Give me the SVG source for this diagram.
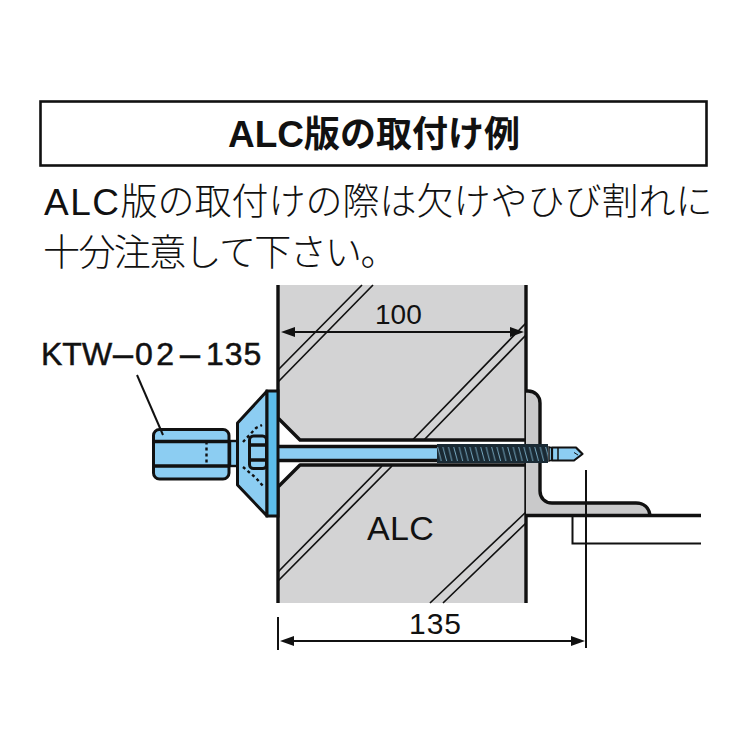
<svg xmlns="http://www.w3.org/2000/svg" width="749" height="749" viewBox="0 0 749 749">
<style>
.j{font-family:"Noto Sans CJK JP","Liberation Sans",sans-serif;fill:#111}
.l{font-family:"Liberation Sans",Arial,sans-serif;fill:#111}
.k{fill:none;stroke:#111;stroke-width:3.4;stroke-linejoin:round}
.b{fill:#8ccdf2;stroke:#111;stroke-width:3;stroke-linejoin:round}
.t{fill:none;stroke:#111;stroke-width:1.7}
.d{fill:none;stroke:#111;stroke-width:2.4;stroke-dasharray:3 3}
.a{fill:none;stroke:#111;stroke-width:2}
</style>
<defs>
<pattern id="thr" width="5.4" height="20" patternUnits="userSpaceOnUse" x="437" y="444">
<rect width="5.4" height="20" fill="#1a2a34"/>
<path d="M0.6 3L4.2 17" stroke="#7fb4cf" stroke-width="0.9"/>
</pattern>
</defs>
<g id="title">
<rect x="40.500" y="101.500" width="666" height="64" fill="#fff" stroke="#111" stroke-width="2.600"/>
<text class="j" x="228" y="147" font-size="36" font-weight="700"><tspan class="l" font-size="37" font-weight="700">ALC</tspan>版の取付け例</text>
</g>
<g id="note">
<text class="j" x="44" y="215" font-size="37" font-weight="300"><tspan class="l" letter-spacing="1.500">ALC</tspan>版の取付けの際は欠けやひび割れに</text>
<text class="j" x="43" y="266" font-size="37" font-weight="300" letter-spacing="-1.600">十分注意して下さい。</text>
</g>
<g id="wall">
<rect x="278" y="285" width="248" height="318" fill="#d3d3d4"/>
<path d="M278 418L300 440H526V465H300L278 487Z" fill="#fff"/>
<path class="t" d="M362 285L278 370M373 285L278 382M526 323L413 439.500M526 335L424 440M382 466L278 572M392 466L278 581M526 512L430 603M526 523L443 603"/>
<path class="k" d="M278 285V418L300 440H526M278 487L300 465H526M278 487V603M526 285V603"/>
</g>
<g id="bracket">
<path d="M526 391H528C535 391 540 396 540 403V491C540 498 545 503 552 503H636C644 503 649 508 650 515H526Z" fill="#c9c9ca" stroke="none"/>
<path class="k" d="M526 391H528C535 391 540 396 540 403V491C540 498 545 503 552 503H636C644 503 649 508 650 515"/>
<path class="k" d="M526 515.500H701" stroke-width="2.600"/>
<path class="a" d="M701 543.500H572.500V516" stroke-width="2.400"/>
</g>
<g id="screw">
<rect x="278" y="447" width="159" height="13" fill="#8ccdf2"/>
<path class="k" d="M278 446.500H437M278 460.500H437" stroke-width="2.400"/>
<path d="M437 444H548V463H437Z" fill="url(#thr)"/>
<path d="M549 447L556 449V459L549 461Z" fill="#8ccdf2" stroke="#111" stroke-width="1.500"/>
<path d="M552 447.500V460.500H574L582.500 454L576 447.500Z" fill="#8ccdf2" stroke="#111" stroke-width="2.200" stroke-linejoin="round"/>
<path d="M558 447V460.500" stroke="#111" stroke-width="1.500" fill="none"/>
<path d="M574 452.500L578 455" stroke="#111" stroke-width="1" fill="none"/>
</g>
<g id="anchor">
<rect x="230" y="441" width="8" height="25" fill="#8ccdf2" stroke="#111" stroke-width="2.400"/>
<path class="b" d="M237.500 423L267 391V516L237.500 485Z"/>
<rect x="267" y="391" width="11" height="125" fill="#5dbdea" stroke="#111" stroke-width="3"/>
<rect x="249.500" y="436" width="17" height="32.500" rx="4" fill="#8ccdf2" stroke="#111" stroke-width="3"/>
<path class="k" d="M249.500 445H266.500M249.500 460H266.500" stroke-width="2.800"/>
<path class="d" d="M243 442L256 428L262 425M243 467L256 478L263 486"/>
<rect x="153.500" y="429.500" width="75.500" height="49.500" rx="6" class="b"/>
<path class="k" d="M153.500 441.500H229M153.500 466H229" stroke-width="2.800"/>
<path class="d" d="M206.500 441.500V466"/>
</g>
<g id="connectors">
<line class="a" x1="137" y1="375" x2="163" y2="435"/>
<line class="a" x1="295" y1="332" x2="510" y2="332"/>
<path d="M295 327L281 332L295 337ZM510 327L524 332L510 337Z" fill="#111"/>
<line class="a" x1="278" y1="617" x2="278" y2="650"/>
<line class="a" x1="586" y1="470" x2="586" y2="648"/>
<line class="a" x1="294" y1="641" x2="571" y2="641"/>
<path d="M294 636L280 641L294 646ZM571 636L585 641L571 646Z" fill="#111"/>
</g>
<g id="labels">
<text class="l" x="375" y="324" font-size="28">100</text>
<text class="l" x="409" y="634" font-size="30" letter-spacing="1">135</text>
<text class="l" x="367" y="540" font-size="34" letter-spacing="0.300">ALC</text>
<text class="l" y="365" font-size="32" stroke="#111" stroke-width="0.500"><tspan x="41">KTW</tspan><tspan x="113" font-size="36" dy="1">–</tspan><tspan x="135" dy="-1" letter-spacing="3.500">02</tspan><tspan x="180" font-size="36" dy="1">–</tspan><tspan x="206" dy="-1" letter-spacing="1">135</tspan></text>
</g>
</svg>
